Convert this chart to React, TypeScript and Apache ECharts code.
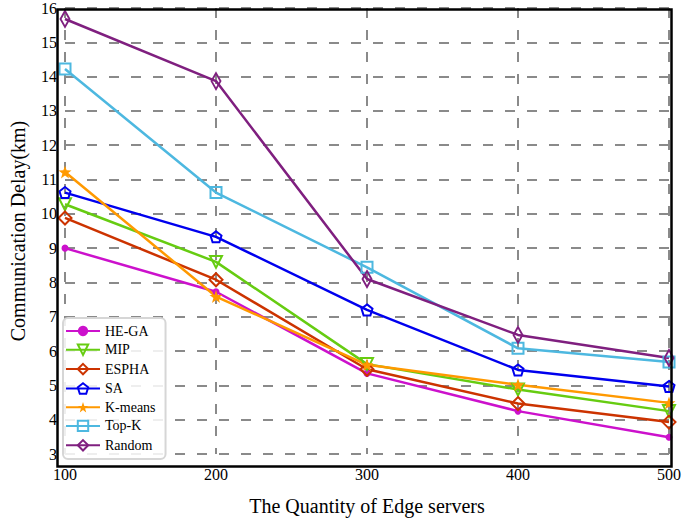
import React, { useEffect, useRef } from "react";
import * as echarts from "echarts";

const xCategories = [100, 200, 300, 400, 500];
const heGA = [9.0, 7.73, 5.35, 4.25, 3.49];
const mip = [10.28, 8.6, 5.62, 4.88, 4.25];
const espha = [9.88, 8.08, 5.47, 4.47, 3.93];
const sa = [10.62, 9.33, 7.2, 5.45, 4.97];
const kmeans = [11.22, 7.59, 5.6, 5.02, 4.49];
const topK = [14.22, 10.62, 8.44, 6.08, 5.68];
const randomS = [15.68, 13.87, 8.1, 6.47, 5.8];

const FONT = "'Liberation Serif', 'Times New Roman', serif";

const pentagon = "path://M0,-10 L9.51,-3.09 L5.88,8.09 L-5.88,8.09 L-9.51,-3.09 Z";
const star =
  "path://M0,-10 L2.35,-3.24 L9.51,-3.09 L3.8,1.24 L5.88,8.09 L0,4 L-5.88,8.09 L-3.8,1.24 L-9.51,-3.09 L-2.35,-3.24 Z";

type S = {
  name: string;
  data: number[];
  color: string;
  symbol: string;
  size: number | number[];
  rotate?: number;
  filled?: boolean;
};

const seriesDefs: S[] = [
  { name: "HE-GA", data: heGA, color: "#cc11cc", symbol: "circle", size: 7, filled: true },
  { name: "MIP", data: mip, color: "#66cc11", symbol: "triangle", size: 12, rotate: 180 },
  { name: "ESPHA", data: espha, color: "#cc3300", symbol: "diamond", size: 13 },
  { name: "SA", data: sa, color: "#0000ee", symbol: pentagon, size: 11 },
  { name: "K-means", data: kmeans, color: "#ff9900", symbol: star, size: 13, filled: true },
  { name: "Top-K", data: topK, color: "#4db8e0", symbol: "rect", size: 11 },
  { name: "Random", data: randomS, color: "#7f1f7f", symbol: "diamond", size: [9, 16] },
];

export default function App() {
  const ref = useRef<HTMLDivElement>(null);
  useEffect(() => {
    if (!ref.current) return;
    const chart = echarts.init(ref.current, undefined, { renderer: "svg" });
    chart.setOption({
      animation: false,
      backgroundColor: "#ffffff",
      textStyle: { fontFamily: FONT },
      grid: { left: 55, right: 16, top: 7, bottom: 57, containLabel: false },
      legend: {
        orient: "vertical",
        left: 63,
        top: 318,
        itemGap: 4,
        itemWidth: 34,
        itemHeight: 13,
        padding: [6, 10, 6, 2],
        borderColor: "#d6d6d6",
        borderWidth: 2,
        borderRadius: 5,
        backgroundColor: "rgba(255,255,255,0.85)",
        textStyle: { fontFamily: FONT, fontSize: 14, color: "#000" },
        data: seriesDefs.map((s) => s.name),
      },
      xAxis: {
        type: "value",
        min: 100,
        max: 500,
        interval: 100,
        name: "The Quantity of Edge servers",
        nameLocation: "middle",
        nameGap: 42,
        nameTextStyle: { fontFamily: FONT, fontSize: 20, color: "#000" },
        axisLine: { show: false },
        axisTick: { show: false },
        axisLabel: { fontFamily: FONT, fontSize: 16, color: "#000", margin: 12 },
        splitLine: { show: true, lineStyle: { color: "#8a8a8a", width: 2, type: [10, 12] } },
      },
      yAxis: {
        type: "value",
        min: 3,
        max: 16,
        interval: 1,
        name: "Communication Delay(km)",
        nameLocation: "middle",
        nameGap: 37,
        nameTextStyle: { fontFamily: FONT, fontSize: 20, color: "#000" },
        axisLine: { show: false },
        axisTick: { show: false },
        axisLabel: { fontFamily: FONT, fontSize: 16, color: "#000", margin: 8 },
        splitLine: { show: true, lineStyle: { color: "#8a8a8a", width: 2, type: [10, 12] } },
      },
      graphic: [
        {
          type: "rect",
          left: 55,
          top: 7,
          shape: { width: 614, height: 457 },
          style: { fill: "none", stroke: "#000", lineWidth: 2.5 },
          silent: true,
          z: 100,
        },
      ],
      series: seriesDefs.map((s) => ({
        name: s.name,
        type: "line",
        data: s.data.map((v, i) => [xCategories[i], v]),
        symbol: s.symbol,
        symbolSize: s.size,
        symbolRotate: s.rotate || 0,
        showSymbol: true,
        clip: false,
        lineStyle: { color: s.color, width: 2.5 },
        itemStyle: {
          color: s.filled ? s.color : "none",
          borderColor: s.color,
          borderWidth: s.filled ? 0 : 2,
        },
        emphasis: { disabled: true },
        z: 10,
      })),
    });
    return () => chart.dispose();
  }, []);
  return <div ref={ref} style={{ width: 685, height: 521, position: "absolute", left: 0, top: 0 }} />;
}
